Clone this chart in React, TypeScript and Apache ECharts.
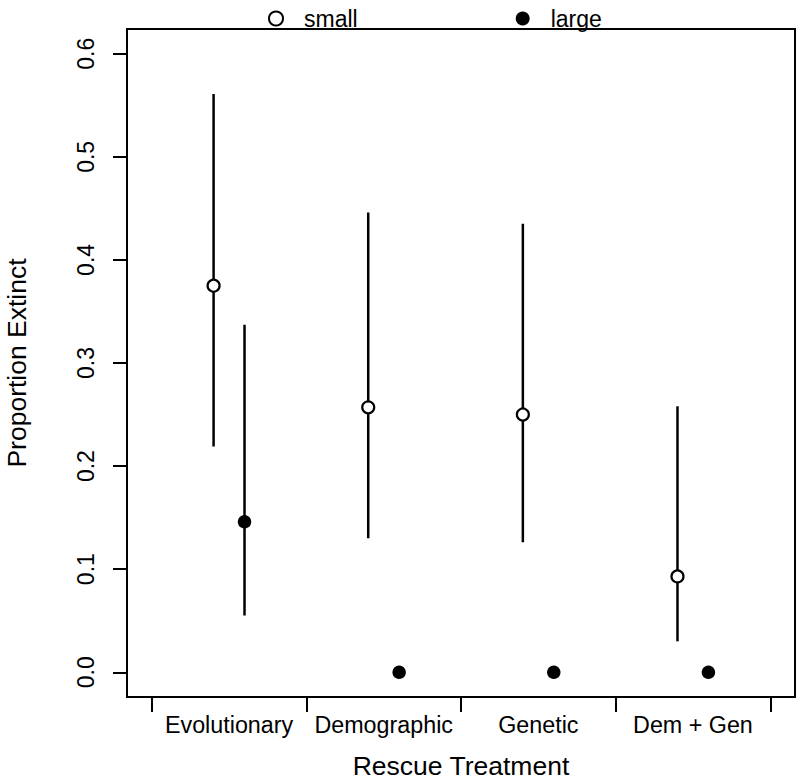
import React, { useEffect, useRef } from "react";
import * as echarts from "echarts";

const categories = ["Evolutionary", "Demographic", "Genetic", "Dem + Gen"];
const smallMean = [0.375, 0.257, 0.25, 0.093];
const smallLo = [0.219, 0.13, 0.126, 0.03];
const smallHi = [0.561, 0.446, 0.435, 0.258];
const largeMean = [0.146, 0, 0, 0];
const largeLo: (number | null)[] = [0.055, null, null, null];
const largeHi: (number | null)[] = [0.337, null, null, null];
const yTicks = [0, 0.1, 0.2, 0.3, 0.4, 0.5, 0.6];
const xTickBreaks = [0.5, 1.5, 2.5, 3.5, 4.5];
const xLabelPos = [1, 2, 3, 4];

const OFFSET = 0.1;
const FONT = "'Liberation Sans', Arial, Helvetica, sans-serif";

export default function App() {
  const ref = useRef<HTMLDivElement>(null);
  useEffect(() => {
    if (!ref.current) return;
    const chart = echarts.init(ref.current, null, { renderer: "svg" });
    const smallPts = smallMean.map((v, i) => [i + 1 - OFFSET, v]);
    const largePts = largeMean.map((v, i) => [i + 1 + OFFSET, v]);
    const bars: number[][] = [];
    smallMean.forEach((_, i) => {
      bars.push([i + 1 - OFFSET, smallLo[i], smallHi[i]]);
    });
    largeMean.forEach((_, i) => {
      if (largeLo[i] != null && largeHi[i] != null) bars.push([i + 1 + OFFSET, largeLo[i] as number, largeHi[i] as number]);
    });
    chart.setOption({
      animation: false,
      backgroundColor: "#ffffff",
      textStyle: { fontFamily: FONT },
      grid: {
        left: 127,
        top: 29,
        width: 668,
        height: 668,
        show: true,
        borderColor: "#000",
        borderWidth: 2,
        backgroundColor: "transparent",
        containLabel: false,
        outerBoundsMode: "none",
      },
      legend: {
        left: 263,
        top: 2,
        itemWidth: 14,
        itemHeight: 14,
        itemGap: 158,
        selectedMode: false,
        data: [
          { name: "small", icon: "circle" },
          { name: "large", icon: "circle" },
        ],
        textStyle: { fontSize: 23, color: "#000", fontFamily: FONT, padding: [0, 0, 0, 16] },
      },
      xAxis: {
        type: "value",
        min: 0.34,
        max: 4.66,
        splitLine: { show: false },
        axisLine: { show: false, onZero: false },
        axisTick: {
          show: true,
          length: 15,
          customValues: xTickBreaks,
          lineStyle: { color: "#000", width: 2 },
        },
        axisLabel: {
          customValues: xLabelPos,
          formatter: (v: number) => categories[Math.round(v) - 1] ?? "",
          fontSize: 23.3,
          color: "#000",
          margin: 16,
          fontFamily: FONT,
        },
        name: "Rescue Treatment",
        nameLocation: "middle",
        nameGap: 55,
        nameTextStyle: { fontSize: 26.5, color: "#000", fontFamily: FONT },
      },
      yAxis: {
        type: "value",
        min: -0.024,
        max: 0.624,
        splitLine: { show: false },
        axisLine: { show: false, onZero: false },
        axisTick: {
          show: true,
          length: 14,
          customValues: yTicks,
          lineStyle: { color: "#000", width: 2 },
        },
        axisLabel: {
          customValues: yTicks,
          formatter: (v: number) => v.toFixed(1),
          rotate: 90,
          fontSize: 23,
          color: "#000",
          margin: 30,
          fontFamily: FONT,
        },
        name: "Proportion Extinct",
        nameLocation: "middle",
        nameRotate: 90,
        nameGap: 97,
        nameTextStyle: { fontSize: 26.5, color: "#000", fontFamily: FONT },
      },
      series: [
        {
          type: "custom",
          name: "bars",
          z: 1,
          data: bars,
          renderItem: (params: any, api: any) => {
            const x = api.value(0);
            const p1 = api.coord([x, api.value(1)]);
            const p2 = api.coord([x, api.value(2)]);
            return {
              type: "line",
              shape: { x1: p1[0], y1: p1[1], x2: p2[0], y2: p2[1] },
              style: { stroke: "#000", lineWidth: 2.5 },
            };
          },
        },
        {
          type: "scatter",
          name: "small",
          z: 3,
          symbol: "circle",
          symbolSize: 12,
          data: smallPts,
          itemStyle: { color: "#fff", borderColor: "#000", borderWidth: 2.2, opacity: 1 },
        },
        {
          type: "scatter",
          name: "large",
          z: 3,
          symbol: "circle",
          symbolSize: 13.5,
          data: largePts,
          itemStyle: { color: "#000", borderColor: "#000", borderWidth: 0, opacity: 1 },
        },
      ],
    });
    return () => chart.dispose();
  }, []);
  return (
    <div
      ref={ref}
      style={{ position: "fixed", left: 0, top: 0, width: 799, height: 783, background: "#fff" }}
    />
  );
}
